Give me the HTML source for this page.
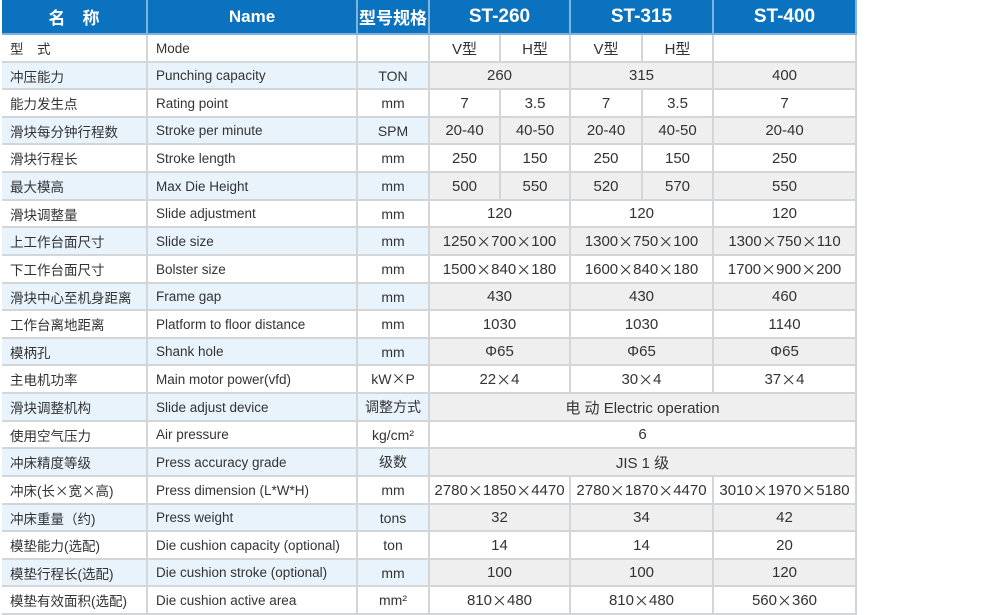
<!DOCTYPE html>
<html><head><meta charset="utf-8">
<style>
body{margin:0;width:1000px;height:615px;background:#fff;overflow:hidden;font-family:"Liberation Sans","Noto Sans CJK SC",sans-serif;}
#t{position:absolute;left:0;top:0;width:1000px;height:615px;}
.c{position:absolute;box-sizing:border-box;border-right:2px solid #d3d6d9;border-bottom:2px solid #d3d6d9;display:flex;align-items:center;justify-content:center;font-size:14px;color:#333;white-space:nowrap;}
.v{font-size:15px;}
.h{background:#0b72c0;color:#fff;border-color:#7fb2dd;font-size:17px;font-weight:bold;}
.h3{font-size:19px;}
.l{justify-content:flex-start;padding-left:8px;font-size:13.5px;}
.b{background:#e8f3fc;}
.g{background:#efefef;}
.x{font-family:"Noto Sans CJK SC",sans-serif;}
</style></head><body>
<div id="t"></div>
<script>
const colX=[2,148,358,430,501,571,643,714,857];
const headers=["名　称","Name","型号规格","ST-260","ST-315","ST-400"];
const namesCn=["型　式","冲压能力","能力发生点","滑块每分钟行程数","滑块行程长","最大模高","滑块调整量","上工作台面尺寸","下工作台面尺寸","滑块中心至机身距离","工作台离地距离","模柄孔","主电机功率","滑块调整机构","使用空气压力","冲床精度等级","冲床(长×宽×高)","冲床重量（约)","模垫能力(选配)","模垫行程长(选配)","模垫有效面积(选配)"];
const namesEn=["Mode","Punching capacity","Rating point","Stroke per minute","Stroke length","Max Die Height","Slide adjustment","Slide size","Bolster size","Frame gap","Platform to floor distance","Shank hole","Main motor power(vfd)","Slide adjust device","Air pressure","Press accuracy grade","Press dimension (L*W*H)","Press weight","Die cushion capacity (optional)","Die cushion stroke (optional)","Die cushion active area"];
const units=["","TON","mm","SPM","mm","mm","mm","mm","mm","mm","mm","mm","kW×P","调整方式","kg/cm²","级数","mm","tons","ton","mm","mm²"];
const values=[
["V型","H型","V型","H型",""],
["260","315","400"],
["7","3.5","7","3.5","7"],
["20-40","40-50","20-40","40-50","20-40"],
["250","150","250","150","250"],
["500","550","520","570","550"],
["120","120","120"],
["1250×700×100","1300×750×100","1300×750×110"],
["1500×840×180","1600×840×180","1700×900×200"],
["430","430","460"],
["1030","1030","1140"],
["Φ65","Φ65","Φ65"],
["22×4","30×4","37×4"],
["电 动 Electric operation"],
["6"],
["JIS 1 级"],
["2780×1850×4470","2780×1870×4470","3010×1970×5180"],
["32","34","42"],
["14","14","20"],
["100","100","120"],
["810×480","810×480","560×360"]];
const T=document.getElementById('t');
function esc(s){return s.replace(/&/g,'&amp;').replace(/</g,'&lt;');}
function cell(x1,x2,y1,y2,txt,cls,name){
  const d=document.createElement('div');
  d.className='c '+cls;
  d.style.left=x1+'px';d.style.top=y1+'px';d.style.width=(x2-x1)+'px';d.style.height=(y2-y1)+'px';
  d.innerHTML=esc(txt).replace(/×/g,'<span class="x">×</span>');
  
  
  T.appendChild(d);
}
const hx=[colX[0],colX[1],colX[2],colX[3],colX[5],colX[7],colX[8]];
headers.forEach((h,i)=>cell(hx[i],hx[i+1],0,35,h,'h'+(i>=3?' h3':''),'header-'+i));
const rh=(615-35)/21;
namesCn.forEach((n,r)=>{
  const y1=Math.round(35+r*rh),y2=Math.round(35+(r+1)*rh);
  const alt=r%2===1;
  cell(colX[0],colX[1],y1,y2,n,'l'+(alt?' b':''),'row-name-cn-'+r);
  cell(colX[1],colX[2],y1,y2,namesEn[r],'l'+(alt?' b':''),'row-name-en-'+r);
  cell(colX[2],colX[3],y1,y2,units[r],alt?'b':'','row-unit-'+r);
  const v=values[r];let bounds;
  if(v.length===5)bounds=[3,4,5,6,7,8];
  else if(v.length===3)bounds=[3,5,7,8];
  else bounds=[3,8];
  v.forEach((t,k)=>cell(colX[bounds[k]],colX[bounds[k+1]],y1,y2,t,'v'+(alt?' g':''),'row-value-'+r+'-'+k));
});
</script>
</body></html>
